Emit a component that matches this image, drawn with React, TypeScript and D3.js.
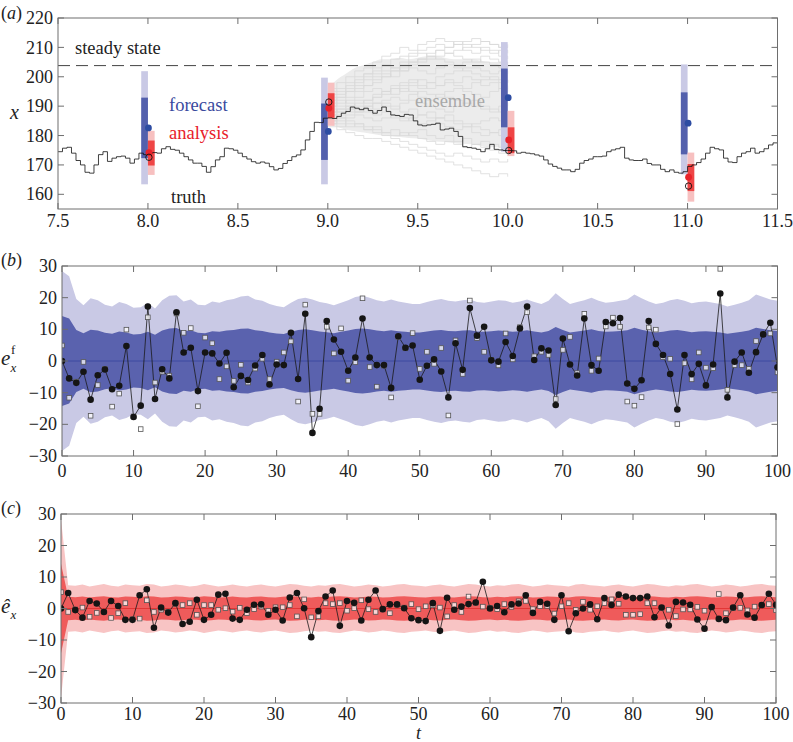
import React from 'react';
import * as d3 from 'd3';

const FONT = "'Liberation Serif', 'DejaVu Serif', 'Noto Serif', 'FreeSerif', 'Nimbus Roman', 'Times New Roman', Times, serif";

// ---------- Panel (a) data ----------
const truthStart = 7.5;
const truthStep = 0.025;
const truthValues = [
  174.5, 175.7, 176.0, 174.0, 171.5, 170.0, 167.5, 167.2, 170.0, 173.5,
  174.5, 171.2, 172.3, 172.8, 173.0, 172.3, 170.6, 172.0, 174.0, 173.5,
  174.0, 174.2, 174.0, 175.5, 176.2, 175.3, 175.0, 174.0, 172.8, 171.7,
  170.6, 170.6, 169.5, 167.5, 169.4, 171.7, 172.8, 175.7, 175.5, 175.0,
  174.0, 172.8, 172.0, 171.1, 170.6, 171.0, 170.6, 169.4, 168.3, 168.8,
  170.5, 171.5, 172.8, 173.4, 175.1, 178.5, 181.4, 184.5, 184.4, 185.9,
  186.0, 185.8, 186.5, 187.6, 188.2, 189.7, 189.3, 188.8, 189.3, 188.5,
  187.6, 188.5, 189.7, 188.2, 187.0, 186.8, 186.5, 187.2, 187.0, 185.0,
  183.6, 183.3, 183.6, 183.8, 184.2, 181.9, 182.2, 182.5, 181.4, 179.7,
  176.2, 175.9, 175.7, 175.3, 174.5, 175.5, 177.0, 175.3, 175.1, 174.9,
  174.9, 174.8, 174.0, 174.3, 174.0, 173.8, 173.4, 173.0, 171.7, 170.3,
  169.5, 168.9, 168.3, 168.3, 167.7, 168.5, 170.6, 171.5, 172.0, 172.8,
  172.8, 173.0, 174.5, 175.1, 175.5, 176.0, 172.3, 171.7, 171.5, 171.5,
  172.0, 170.5, 170.0, 170.0, 168.5, 167.7, 168.3, 167.5, 167.2, 167.7,
  169.5, 170.0, 170.8, 172.0, 174.0, 176.0, 175.5, 175.1, 172.3, 171.0,
  170.8, 172.8, 174.0, 174.5, 175.7, 174.0, 174.5, 175.5, 176.8, 177.5,
  178.0,
];

const ensStart = 9.0;
const ensStep = 0.05;
const ensUpper = [196, 199, 201, 203, 204, 205, 206, 206, 206.5, 206, 206.5, 207, 207, 206.5, 206, 206, 206, 205.5, 205, 205, 205];
const ensLower = [184, 183, 182, 181.5, 181, 180.5, 180, 179.8, 179.5, 179.2, 179, 178.5, 178, 177.8, 177.5, 177.2, 177, 176.5, 176, 176, 176];
const ensembleMembers = [
  [192, 194, 196, 199, 201, 203, 204, 206, 207, 208, 209, 210, 211, 210, 212, 211, 210, 209, 208, 209, 208],
  [188, 190, 193, 195, 197, 199, 200, 202, 204, 205, 205, 206, 207, 208, 209, 210, 211, 212, 211, 210, 210],
  [195, 196, 198, 200, 201, 201, 202, 203, 202, 204, 206, 207, 206, 205, 204, 205, 206, 205, 204, 203, 204],
  [186, 188, 189, 191, 192, 194, 195, 196, 197, 198, 199, 198, 200, 201, 202, 203, 203, 202, 201, 202, 201],
  [190, 191, 192, 193, 195, 196, 195, 197, 198, 199, 197, 196, 197, 198, 197, 196, 198, 199, 200, 199, 198],
  [184, 186, 187, 188, 189, 191, 192, 193, 192, 194, 195, 194, 193, 195, 196, 195, 194, 193, 195, 196, 195],
  [189, 188, 190, 189, 190, 191, 190, 189, 191, 192, 191, 190, 189, 188, 190, 191, 190, 189, 188, 190, 191],
  [186, 185, 186, 187, 186, 185, 186, 187, 186, 185, 184, 185, 186, 185, 184, 183, 184, 185, 186, 185, 184],
  [191, 192, 191, 189, 188, 187, 188, 186, 185, 186, 187, 186, 184, 183, 182, 183, 181, 180, 181, 182, 181],
  [185, 184, 183, 184, 183, 182, 181, 180, 181, 180, 179, 178, 177, 178, 177, 176, 177, 178, 177, 176, 177],
  [187, 186, 184, 183, 182, 181, 180, 179, 178, 177, 176, 175, 174, 173, 174, 173, 172, 171, 172, 171, 172],
  [183, 182, 181, 180, 179, 179, 178, 177, 176, 175, 174, 173, 172, 171, 170, 169, 168, 167, 166, 167, 166],
  [194, 195, 197, 198, 199, 200, 201, 200, 202, 203, 202, 201, 203, 204, 203, 202, 201, 200, 199, 198, 199],
  [185, 187, 189, 188, 190, 189, 191, 190, 188, 189, 187, 188, 186, 187, 185, 184, 183, 182, 181, 180, 179],
  [193, 193, 195, 196, 197, 198, 200, 202, 203, 205, 206, 208, 209, 208, 207, 206, 205, 207, 206, 205, 204],
  [188, 189, 188, 190, 192, 193, 195, 194, 196, 195, 193, 192, 194, 193, 192, 191, 192, 190, 189, 188, 187],
  [196, 198, 200, 202, 203, 205, 207, 208, 210, 209, 211, 212, 213, 212, 211, 212, 213, 212, 211, 210, 211],
  [190, 193, 195, 197, 200, 202, 204, 203, 205, 207, 208, 207, 209, 210, 211, 209, 208, 210, 209, 207, 206],
  [187, 189, 190, 192, 191, 193, 194, 196, 195, 197, 196, 198, 197, 199, 198, 200, 199, 197, 198, 196, 197],
  [184, 183, 185, 184, 182, 183, 181, 182, 180, 181, 182, 180, 179, 180, 178, 179, 177, 176, 175, 174, 173],
];

const cycleTimes = [8, 9, 10, 11];
const forecastMean = [182.6, 181.4, 192.9, 184.2];
const forecastOuterLo = [163.4, 163.4, 174.5, 166.8];
const forecastOuterHi = [201.9, 199.7, 211.8, 204.2];
const forecastInnerLo = [172.3, 171.7, 182.8, 173.6];
const forecastInnerHi = [192.9, 190.9, 202.8, 194.7];
const analysisMean = [174.2, 189.3, 178.5, 165.8];
const analysisOuterLo = [166.6, 183.3, 173.0, 157.5];
const analysisOuterHi = [181.6, 198.0, 188.4, 174.2];
const analysisInnerLo = [169.8, 186.0, 174.0, 161.1];
const analysisInnerHi = [178.3, 194.4, 182.8, 170.3];
const observations = [172.6, 191.4, 174.9, 162.8];
const steadyState = 203.8;

const aXTicks = [7.5, 8.0, 8.5, 9.0, 9.5, 10.0, 10.5, 11.0, 11.5];
const aYTicks = [160, 170, 180, 190, 200, 210, 220];
const errTicksX = [0, 10, 20, 30, 40, 50, 60, 70, 80, 90, 100];
const errTicksY = [-30, -20, -10, 0, 10, 20, 30];

// ---------- Panel (b) data ----------
const forecastErr = [
  0, -5.5, -6.9, -3.4, -12.2, -4.5, -2.7, -8.9, -7.8, 4.7,
  -17.7, -14.1, 17.2, -12.0, -2.6, -5.5, 15.4, 2.7, 4.2, -9.5,
  2.7, 2.4, -0.8, 2.6, -8.3, -4.7, -6.0, -1.4, 1.9, -7.4,
  -1.1, -1.3, 8.9, -5.7, 14.9, -22.7, -15.1, 12.6, 6.8, 2.9,
  -3.1, 1.1, 13.4, 1.1, -1.3, -1.3, -8.5, 7.8, 4.2, 4.9,
  -5.9, -1.5, 0.5, -3.3, -11.5, 5.6, -2.8, 16.7, 8.0, 10.8,
  0.2, -0.2, 6.0, 1.6, 10.3, 17.2, 0.3, 4.0, 3.3, -13.9,
  7.1, -1.1, -4.6, 13.4, -1.3, -3.1, 12.3, 11.9, 13.6, -7.1,
  -8.8, -6.1, 12.6, 5.4, 1.9, -4.1, -15.3, 1.9, -4.1, -0.9,
  -7.7, -1.1, 21.3, -11.5, -0.2, 2.7, -3.7, 2.8, 8.4, 12.1,
  -2.0,
];
const forecastObsErr = [
  4.9, -11.6, -6.5, -0.3, -17.3, -7.6, -2.5, -14.4, -10.3, 9.9,
  -17.5, -21.5, 13.8, -6.8, -3.4, -4.6, 15.0, 8.9, 10.4, -14.3,
  7.4, 5.6, -5.7, -1.7, -6.3, -1.2, -6.8, -2.4, 0.7, -5.7,
  -0.2, 2.7, 6.2, -12.8, 17.8, -16.7, -16.7, 10.8, 2.4, 10.3,
  -6.2, -0.4, 19.8, -1.9, -8.1, -1.5, -11.5, 7.6, 4.0, 8.8,
  -2.5, 2.9, -0.9, 4.1, -17.2, 6.5, -4.1, 19.1, 7.2, 2.9,
  0.4, -1.4, 8.7, 0.5, 10.7, 15.4, 1.5, 2.9, 1.9, -12.0,
  3.5, 7.6, -3.8, 14.9, -3.1, 0.8, 10.9, 13.7, 10.8, -12.8,
  -14.1, -11.4, 10.6, 9.9, 1.2, 0.7, -19.9, -0.7, -5.8, 2.7,
  -2.1, -2.3, 29.1, -9.1, -1.3, -1.3, -2.5, 6.3, 8.5, 8.7,
  -3.6,
];
const forecastSigma = [
  14.2, 13.4, 9.8, 8.8, 9.9, 9.6, 8.9, 8.6, 9.3, 9.0,
  8.4, 8.5, 9.2, 8.3, 9.6, 10.3, 10.4, 9.4, 9.7, 8.9,
  8.8, 9.4, 9.2, 9.6, 9.8, 10.2, 10.3, 9.7, 9.5, 9.0,
  8.7, 8.5, 9.2, 9.8, 10.0, 9.7, 9.3, 9.1, 8.8, 9.2,
  9.6, 10.1, 10.3, 10.0, 9.6, 9.4, 9.7, 9.4, 9.2, 9.0,
  9.0, 9.3, 9.6, 9.8, 9.5, 9.4, 9.6, 9.7, 9.3, 9.2,
  9.4, 9.6, 9.5, 9.2, 9.4, 9.7, 9.3, 9.0, 9.5, 10.7,
  9.8, 9.0, 9.3, 9.6, 10.0, 9.5, 9.2, 9.3, 9.5, 9.7,
  10.5, 9.9, 9.4, 9.0, 9.2, 9.6, 9.8, 9.5, 9.1, 9.3,
  9.4, 9.2, 9.0, 8.6, 8.9, 9.2, 9.6, 10.5, 10.1, 9.7,
  9.5,
];

// ---------- Panel (c) data ----------
const analysisErr = [
  0, 4.9, -0.5, -2.9, 2.4, 1.6, -1.1, 2.4, 0.8, -3.6,
  -3.6, 4.2, 6.1, -6.1, 0.3, -1.3, 1.7, -4.9, -4.2, 2.8,
  -3.6, -2.0, 4.4, 4.7, -3.2, -3.6, -0.4, 1.2, 1.3, -2.0,
  -0.4, -3.8, 3.5, 4.9, 0.1, -9.1, -0.8, 3.8, 5.7, -5.5,
  2.4, 1.8, -3.8, 2.8, 5.7, -0.2, 1.3, 1.3, 0.1, -3.1,
  -3.7, -4.0, 1.7, -7.1, 3.4, -0.4, 0.6, 1.4, 1.9, 8.5,
  0, 0.8, -1.2, 1.3, 1.6, 4.2, -1.4, 2.1, 1.5, -3.6,
  4.2, -7.2, -1.5, 0, 1.3, -3.4, 3.3, 1.1, 4.4, 3.8,
  3.3, 3.3, 3.8, -2.8, 0.3, -5.4, 2.1, 1.9, 1.2, -3.5,
  -6.4, 0.5, -3.3, -3.7, 0.3, 4.2, -1.9, -2.9, 1.1, 4.7,
  1.2,
];
const analysisObsErr = [
  5.2, -1.1, -0.3, 0.3, -2.6, -1.4, -1.0, -3.0, -1.5, 1.7,
  -3.4, -3.2, 2.6, -1.1, -0.4, -1.0, 1.5, 1.1, 1.7, -2.0,
  1.1, 1.1, -0.4, 0.1, -1.0, 0.2, -1.5, -0.2, 0.6, -0.7,
  0.4, 0.4, 1.1, -2.5, 2.9, -2.8, -2.5, 1.7, 1.4, 1.7,
  -0.7, 0.1, 2.6, -0.2, -1.1, -0.3, -1.5, 1.2, 0.3, 1.4,
  -0.2, 0.7, 1.0, 0.3, -2.5, 1.1, -1.1, 3.8, 1.8, 0.6,
  0.2, -0.2, 1.4, 0.5, 2.3, 2.4, -0.2, 0.7, 0.8, -1.6,
  0.7, 1.7, -0.4, 2.1, -0.4, 0.7, 1.7, 2.9, 1.5, -2.0,
  -2.0, -1.8, 1.7, 1.7, 0.2, -0.4, -2.4, -0.3, -0.3, 0.5,
  -0.7, 0.3, 4.6, -1.5, 0.1, 0.2, -0.6, 0.6, 1.0, 1.4,
  -0.5,
];
const analysisSigma = [
  14.2, 3.7, 3.6, 3.8, 3.5, 3.7, 3.9, 3.6, 3.5, 3.8,
  3.7, 3.6, 3.9, 3.8, 3.5, 3.6, 3.8, 3.7, 3.5, 3.6,
  3.9, 3.7, 3.5, 3.6, 3.8, 3.6, 3.5, 3.7, 3.8, 3.6,
  3.5, 3.7, 3.9, 3.8, 3.6, 3.5, 3.7, 3.6, 3.8, 3.9,
  3.7, 3.5, 3.6, 3.8, 3.7, 3.5, 3.6, 3.8, 3.9, 3.7,
  3.6, 3.5, 3.7, 3.8, 3.6, 3.5, 3.7, 3.9, 3.8, 3.6,
  3.5, 3.7, 3.6, 3.8, 3.9, 3.7, 3.5, 3.6, 3.8, 3.7,
  3.6, 3.5, 3.8, 3.9, 3.7, 3.6, 3.5, 3.7, 3.8, 3.6,
  3.5, 3.7, 3.9, 3.8, 3.6, 3.5, 3.7, 3.6, 3.8, 3.9,
  3.7, 3.5, 3.6, 3.8, 3.7, 3.5, 3.6, 3.8, 3.9, 3.7,
  3.6,
];

const GREY = '#6e6e6e';
const TXT: any = { fontFamily: FONT };

function Frame({ x, y, xTicks, yTicks, xFmt, yFmt, xLabelY, tickLen = 6 }: any) {
  const [x0, x1] = x.range();
  const [yb, yt] = y.range();
  return (
    <g>
      <rect x={x0} y={yt} width={x1 - x0} height={yb - yt} fill="none" stroke={GREY} strokeWidth={1} />
      {xTicks.map((t: number) => (
        <g key={'xt' + t}>
          <line x1={x(t)} x2={x(t)} y1={yb} y2={yb - tickLen} stroke={GREY} />
          <line x1={x(t)} x2={x(t)} y1={yt} y2={yt + tickLen} stroke={GREY} />
          <text x={x(t)} y={xLabelY} textAnchor="middle" fontSize={18} style={TXT} fill="#222">{xFmt(t)}</text>
        </g>
      ))}
      {yTicks.map((t: number) => (
        <g key={'yt' + t}>
          <line x1={x0} x2={x0 + tickLen} y1={y(t)} y2={y(t)} stroke={GREY} />
          <line x1={x1} x2={x1 - tickLen} y1={y(t)} y2={y(t)} stroke={GREY} />
          <text x={x0 - 5} y={y(t)} dy="0.34em" textAnchor="end" fontSize={18} style={TXT} fill="#222">{yFmt(t)}</text>
        </g>
      ))}
    </g>
  );
}

function PanelA() {
  const x = d3.scaleLinear().domain([7.5, 11.5]).range([58, 777.5]);
  const y = d3.scaleLinear().domain([155, 220]).range([209, 18]);
  const truth = truthValues.map((v, i) => [truthStart + i * truthStep, v] as [number, number]);
  const stepLine = d3.line<[number, number]>().x(d => x(d[0])).y(d => y(d[1])).curve(d3.curveStepAfter);
  const envArea = d3.area<number>()
    .x((_, i) => x(ensStart + i * ensStep))
    .y0((_, i) => y(ensLower[i]))
    .y1((_, i) => y(ensUpper[i]))
    .curve(d3.curveMonotoneX);
  const bw = 6.7;
  return (
    <g>
      <defs>
        <clipPath id="clipA"><rect x={58} y={18} width={719.5} height={191} /></clipPath>
      </defs>
      <g clipPath="url(#clipA)">
        <path d={envArea(ensUpper) || ''} fill="#ececec" />
        {ensembleMembers.map((m, k) => (
          <path key={k} d={stepLine(m.map((v, i) => [ensStart + i * ensStep, v] as [number, number])) || ''}
            fill="none" stroke="#d9d9d9" strokeWidth={0.8} />
        ))}
        <line x1={x(7.5)} x2={x(11.5)} y1={y(steadyState)} y2={y(steadyState)} stroke="#444" strokeWidth={1} strokeDasharray="12 6" />
        {cycleTimes.map((t, i) => (
          <g key={t}>
            <rect x={x(t) - bw} width={bw} y={y(forecastOuterHi[i])} height={y(forecastOuterLo[i]) - y(forecastOuterHi[i])} fill="#c9c9e5" />
            <rect x={x(t) - bw} width={bw} y={y(forecastInnerHi[i])} height={y(forecastInnerLo[i]) - y(forecastInnerHi[i])} fill="#5360ad" />
            <rect x={x(t)} width={bw} y={y(analysisOuterHi[i])} height={y(analysisOuterLo[i]) - y(analysisOuterHi[i])} fill="#f7c0c0" />
            <rect x={x(t)} width={bw} y={y(analysisInnerHi[i])} height={y(analysisInnerLo[i]) - y(analysisInnerHi[i])} fill="#ef4545" />
          </g>
        ))}
        <path d={stepLine(truth) || ''} fill="none" stroke="#111" strokeWidth={0.8} />
        {cycleTimes.map((t, i) => (
          <g key={'p' + t}>
            <circle cx={x(t) + 0.5} cy={y(forecastMean[i])} r={3.4} fill="#2d4ca2" />
            <circle cx={x(t) + 1} cy={y(analysisMean[i])} r={3.4} fill="#e8222a" />
            <circle cx={x(t) + 1} cy={y(observations[i])} r={3.2} fill="none" stroke="#111" strokeWidth={0.9} />
          </g>
        ))}
      </g>
      <Frame x={x} y={y} xTicks={aXTicks} yTicks={aYTicks} xFmt={d3.format('.1f')} yFmt={d3.format('d')} xLabelY={227} />
      <text x={75} y={54} fontSize={18.5} style={TXT} fill="#222">steady state</text>
      <text x={169} y={111} fontSize={18.5} style={TXT} fill="#3a4a9e">forecast</text>
      <text x={169} y={139} fontSize={18.5} style={TXT} fill="#e8202a">analysis</text>
      <text x={171} y={203} fontSize={18.5} style={TXT} fill="#222">truth</text>
      <text x={415} y={107} fontSize={18.5} style={TXT} fill="#a8a8a8">ensemble</text>
      <text x={1} y={19} fontSize={18} style={TXT} fill="#222">(<tspan fontStyle="italic">a</tspan>)</text>
      <text x={10} y={119} fontSize={20} fontStyle="italic" style={TXT} fill="#222">x</text>
    </g>
  );
}

function ErrorPanel({ top, bottom, left, right, mean, obs, sigma, light, dark, zero, clipId, labelY, tag }: any) {
  const x = d3.scaleLinear().domain([0, 100]).range([left, right]);
  const y = d3.scaleLinear().domain([-30, 30]).range([bottom, top]);
  const band = (k: number) => d3.area<number>()
    .x((_, i) => x(i))
    .y0(s => y(-k * s))
    .y1(s => y(k * s));
  const line = d3.line<number>().x((_, i) => x(i)).y(v => y(v));
  const sq = 4.6;
  return (
    <g>
      <defs>
        <clipPath id={clipId}><rect x={left} y={top} width={right - left} height={bottom - top} /></clipPath>
      </defs>
      <g clipPath={`url(#${clipId})`}>
        <path d={band(2)(sigma) || ''} fill={light} />
        <path d={band(1)(sigma) || ''} fill={dark} />
        <line x1={x(0)} x2={x(100)} y1={y(0)} y2={y(0)} stroke={zero} strokeWidth={0.9} />
        <path d={line(mean) || ''} fill="none" stroke="#1a1a1a" strokeWidth={0.8} />
        {obs.map((v: number, i: number) => (
          <rect key={'s' + i} x={x(i) - sq / 2} y={y(v) - sq / 2} width={sq} height={sq} fill="#fff" fillOpacity={0.75} stroke="#555" strokeWidth={0.8} />
        ))}
        {mean.map((v: number, i: number) => (
          <circle key={'d' + i} cx={x(i)} cy={y(v)} r={3.3} fill="#151515" />
        ))}
      </g>
      <Frame x={x} y={y} xTicks={errTicksX} yTicks={errTicksY} xFmt={d3.format('d')} yFmt={d3.format('d')} xLabelY={labelY} />
      <text x={1} y={top} fontSize={18} style={TXT} fill="#222">(<tspan fontStyle="italic">{tag}</tspan>)</text>
    </g>
  );
}

export default function App() {
  return (
    <svg width={793} height={742} style={{ position: 'absolute', left: 0, top: 0, background: '#fff', fontFamily: FONT }}>
      <rect x={0} y={0} width={793} height={742} fill="#fff" />
      <PanelA />
      <ErrorPanel top={266} bottom={456} left={62} right={777.5} mean={forecastErr} obs={forecastObsErr}
        sigma={forecastSigma} light="#c9c9e5" dark="#5a62ae" zero="#3b48a0" clipId="clipB" labelY={477} tag="b" />
      <text x={1} y={365} fontSize={21} fontStyle="italic" style={TXT} fill="#222">e</text>
      <text x={10.5} y={372} fontSize={13} fontStyle="italic" style={TXT} fill="#222">x</text>
      <text x={11} y={354} fontSize={13} style={TXT} fill="#222">f</text>
      <ErrorPanel top={514} bottom={703} left={61} right={776} mean={analysisErr} obs={analysisObsErr}
        sigma={analysisSigma} light="#f8c4c4" dark="#ef5b5b" zero="#e03232" clipId="clipC" labelY={720} tag="c" />
      <text x={1} y={613} fontSize={21} fontStyle="italic" style={TXT} fill="#222">ê</text>
      <text x={10.5} y={619} fontSize={13} fontStyle="italic" style={TXT} fill="#222">x</text>
      <text x={418.5} y={739} textAnchor="middle" fontSize={18} fontStyle="italic" style={TXT} fill="#222">t</text>
    </svg>
  );
}
